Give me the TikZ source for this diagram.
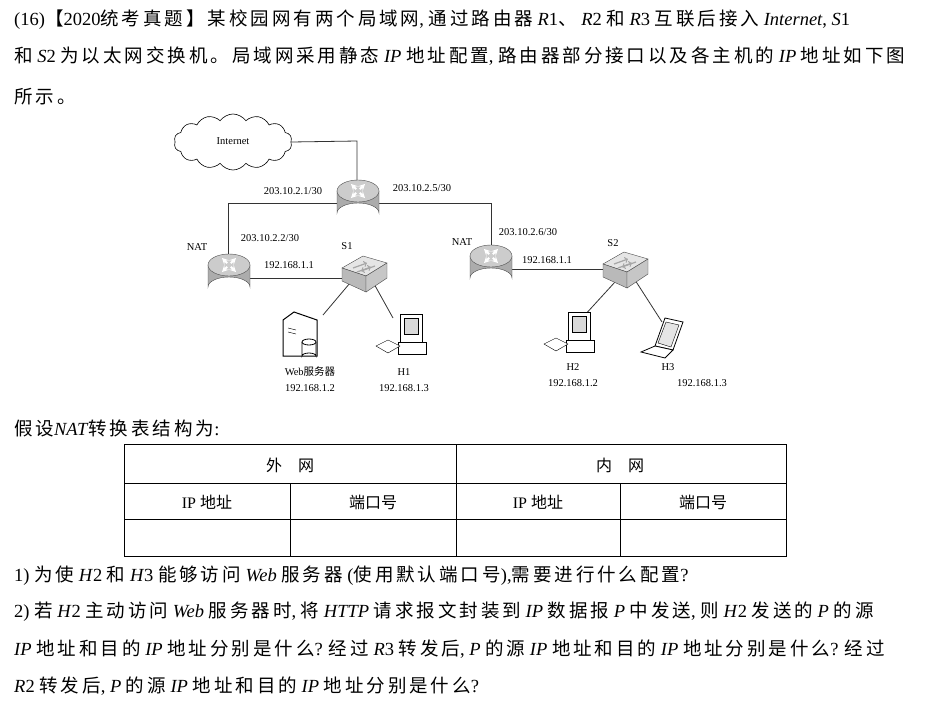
\documentclass[tikz,border=0pt]{standalone}
\usepackage{fontspec}
\setmainfont{Liberation Serif}
\newfontfamily\cjk[LetterSpace=16]{Noto Sans CJK SC}
\newfontfamily\cjkt{Noto Sans CJK SC}
\usetikzlibrary{shapes.symbols,calc}
\newcommand{\C}[1]{{\cjk #1}}
\newcommand{\T}[1]{{\cjkt #1}}
\begin{document}
\begin{tikzpicture}[x=1pt,y=-1pt,
  body/.style={anchor=west,inner sep=0,font=\fontsize{18.5}{20}\selectfont},
  lab/.style={inner sep=0,font=\fontsize{10.5}{12}\selectfont},
  tab/.style={inner sep=0,font=\fontsize{16}{18}\selectfont},
  ln/.style={draw=black!80,line width=0.8pt},
  router/.pic={
    \filldraw[fill=gray!65,draw=black!70] (-21,-10) -- (-21,12) arc[start angle=180,end angle=360,x radius=21,y radius=10] -- (21,-10) -- cycle;
    \filldraw[fill=gray!40,draw=black!70] (0,-10) ellipse[x radius=21,y radius=11];
    \foreach \a in {45,135,225,315}{\draw[white,line width=1.8pt,-stealth] ($(0,-10)+(\a:2.5)$) -- ($(0,-10)+(\a:10)$);}
  },
  switch/.pic={
    \filldraw[fill=gray!20,draw=black!70] (-23,-4) -- (-2,-16) -- (22,-9) -- (1,4) -- cycle;
    \filldraw[fill=gray!55,draw=black!70] (-23,-4) -- (1,4) -- (1,20) -- (-23,9) -- cycle;
    \filldraw[fill=gray!45,draw=black!70] (1,4) -- (22,-9) -- (22,6) -- (1,20) -- cycle;
    \draw[gray!70,line width=1.2pt,->] (-12,-4) -- (2,-9);
    \draw[gray!70,line width=1.2pt,->] (10,-6) -- (-4,-1);
    \draw[gray!70,line width=1.2pt,->] (-8,0) -- (6,-5);
  },
  pc/.pic={
    \filldraw[fill=white,draw=black,line width=0.8pt] (0,-22) rectangle (22,6);
    \filldraw[fill=gray!30,draw=black] (4,-18) rectangle (18,-2);
    \filldraw[fill=white,draw=black,line width=0.8pt] (-2,6) rectangle (26,18);
    \filldraw[fill=white,draw=black] (-24,10) -- (-12,4) -- (0,10) -- (-12,17) -- cycle;
  },
  laptop/.pic={
    \filldraw[fill=white,draw=black,line width=0.8pt] (-8,6) -- (2,-22) -- (20,-18) -- (10,10) -- cycle;
    \filldraw[fill=gray!20,draw=black] (-5,3) -- (3,-18) -- (16,-15) -- (8,7) -- cycle;
    \filldraw[fill=white,draw=black,line width=0.8pt] (-8,6) -- (10,10) -- (2,18) -- (-22,12) -- cycle;
  },
  server/.pic={
    \filldraw[fill=white,draw=black,line width=1pt] (-17,-16) -- (-6,-24) -- (17,-16) -- (17,20) -- (-17,20) -- cycle;
    \draw (-12,-8) -- (-4,-6) (-12,-4) -- (-4,-2);
    \filldraw[fill=white,draw=black,line width=0.8pt] (2,6) -- (2,20) arc[start angle=180,end angle=360,x radius=7,y radius=3] -- (16,6);
    \filldraw[fill=white,draw=black,line width=0.8pt] (9,6) ellipse[x radius=7,y radius=3];
  }]
\useasboundingbox (0,0) rectangle (932,721);

% text
\node[body] (t1) at (14,20) {(16)\C{【}2020\C{统考真题】某校园网有两个局域网}, \C{通过路由器} \textit{R}1\C{、} \textit{R}2 \C{和} \textit{R}3 \C{互联后接入} \textit{Internet}, \textit{S}1};
\node[body] (t2) at (14,56) {\C{和} \textit{S}2 \C{为以太网交换机。局域网采用静态} \textit{IP} \C{地址配置}, \C{路由器部分接口以及各主机的} \textit{IP} \C{地址如下图}};
\node[body] (t3) at (14,97) {\C{所示。}};
\node[body] (t4) at (14,428) {\C{假设}\textit{NAT}\C{转换表结构为}:};
\node[body] (q1) at (14,576) {1) \C{为使} \textit{H}2 \C{和} \textit{H}3 \C{能够访问} \textit{Web} \C{服务器} (\C{使用默认端口号}),\C{需要进行什么配置}?};
\node[body] (q2) at (14,612) {2) \C{若} \textit{H}2 \C{主动访问} \textit{Web} \C{服务器时}, \C{将} \textit{HTTP} \C{请求报文封装到} \textit{IP} \C{数据报} \textit{P} \C{中发送}, \C{则} \textit{H}2 \C{发送的} \textit{P} \C{的源}};
\node[body] (q3) at (14,649) {\textit{IP} \C{地址和目的} \textit{IP} \C{地址分别是什么}? \C{经过} \textit{R}3 \C{转发后}, \textit{P} \C{的源} \textit{IP} \C{地址和目的} \textit{IP} \C{地址分别是什么}? \C{经过}};
\node[body] (q4) at (14,686) {\textit{R}2 \C{转发后}, \textit{P} \C{的源} \textit{IP} \C{地址和目的} \textit{IP} \C{地址分别是什么}?};

% network
\node[cloud,draw,cloud puffs=14,cloud puff arc=110,aspect=2.2,minimum width=118,minimum height=56,line width=0.6pt] (cl) at (233,142) {};
\node[lab] (inet) at (233,141) {Internet};
\coordinate (r1) at (358,201); \coordinate (r2) at (229,275); \coordinate (r3) at (491,266);
\coordinate (s1) at (365,272); \coordinate (s2) at (626,268);
\draw[ln] (cl.east) -- (357,141) -- (357,182);
\draw[ln] (337,203) -- (228,203) -- (228,257);
\draw[ln] (379,203) -- (491,203) -- (491,248);
\draw[ln] (250,278) -- (350,278);
\draw[ln] (512,269) -- (612,269);
\draw[ln] (350,283) -- (323,315);
\draw[ln] (373,282) -- (393,318);
\draw[ln] (615,282) -- (583,317);
\draw[ln] (635,280) -- (662,322);
\pic at (r1) {router};
\pic at (r2) {router};
\pic at (r3) {router};
\node[lab,white] (lr1) at (358,214) {R1};
\node[lab,white] (lr2) at (229,288) {R2};
\node[lab,white] (lr3) at (491,279) {R3};
\pic at (s1) {switch};
\pic at (s2) {switch};
\pic at (300,336) {server};
\pic at (400,336) {pc};
\pic at (568,334) {pc};
\pic at (663,340) {laptop};

\node[lab] (a1) at (293,191) {203.10.2.1/30};
\node[lab] (a2) at (422,188) {203.10.2.5/30};
\node[lab] (a3) at (270,238) {203.10.2.2/30};
\node[lab] (n1) at (197,247) {NAT};
\node[lab] (sl1) at (347,246) {S1};
\node[lab] (a4) at (289,265) {192.168.1.1};
\node[lab] (n2) at (462,242) {NAT};
\node[lab] (a5) at (528,232) {203.10.2.6/30};
\node[lab] (sl2) at (613,243) {S2};
\node[lab] (a6) at (547,260) {192.168.1.1};
\node[lab] (w1) at (310,372) {Web\T{服务器}};
\node[lab] (w2) at (310,388) {192.168.1.2};
\node[lab] (h1) at (404,372) {H1};
\node[lab] (h1a) at (404,388) {192.168.1.3};
\node[lab] (h2) at (573,367) {H2};
\node[lab] (h2a) at (573,383) {192.168.1.2};
\node[lab] (h3) at (668,367) {H3};
\node[lab] (h3a) at (702,383) {192.168.1.3};

% table
\draw[line width=0.9pt] (124,444) rectangle (786,556);
\draw[line width=0.9pt] (124,483) -- (786,483) (124,519) -- (786,519);
\draw[line width=0.9pt] (456,444) -- (456,556) (290,483) -- (290,556) (620,483) -- (620,556);
\node[tab] (c1) at (290,465) {\T{外　网}};
\node[tab] (c2) at (620,465) {\T{内　网}};
\node[tab] (c3) at (207,502) {IP \T{地址}};
\node[tab] (c4) at (373,502) {\T{端口号}};
\node[tab] (c5) at (538,502) {IP \T{地址}};
\node[tab] (c6) at (703,502) {\T{端口号}};
\end{tikzpicture}
\end{document}
